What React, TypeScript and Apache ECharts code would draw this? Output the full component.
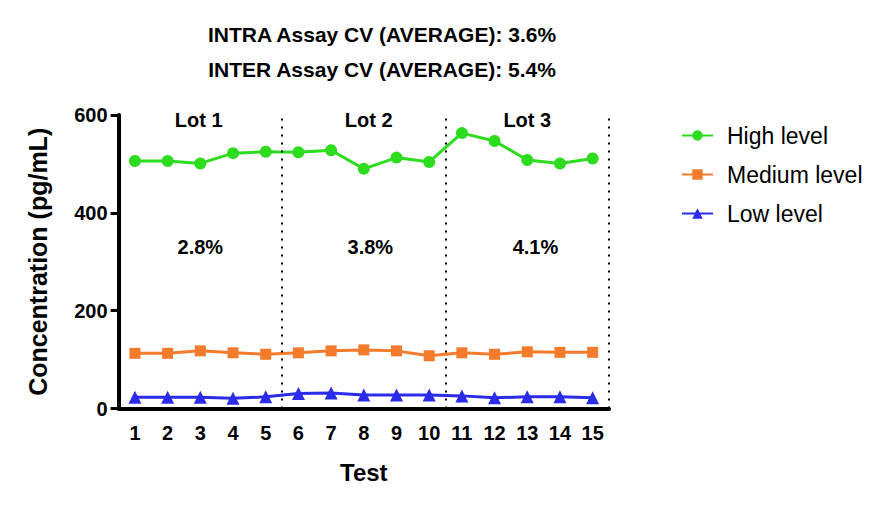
import React, { useEffect, useRef } from "react";
import * as echarts from "echarts";

const tests = ["1","2","3","4","5","6","7","8","9","10","11","12","13","14","15"];
const highLevel = [506, 506, 501, 522, 525, 524, 528, 490, 513, 504, 563, 547, 508, 501, 511];
const mediumLevel = [113, 113, 118, 114, 111, 114, 118, 120, 118, 108, 114, 111, 116, 115, 115];
const lowLevel = [23, 23, 23, 21, 24, 31, 32, 28, 28, 28, 26, 22, 24, 24, 22];
const yTicks = [0, 200, 400, 600];
const lotDividers = [5.5, 10.5, 15.5];
const lotNames = ["Lot 1", "Lot 2", "Lot 3"];
const lotX = [2.95, 8.15, 13.0];
const lotY = 590;
const lotCV = ["2.8%", "3.8%", "4.1%"];
const cvX = [3.0, 8.2, 13.25];
const cvY = 331;
const titleLines = ["INTRA Assay CV (AVERAGE): 3.6%", "INTER Assay CV (AVERAGE): 5.4%"];

const FONT = "'Liberation Sans', Arial, Helvetica, sans-serif";
const GREEN = "#2edc1f";
const ORANGE = "#f47a2c";
const BLUE = "#2b2bea";

export default function App() {
  const ref = useRef<HTMLDivElement>(null);
  useEffect(() => {
    if (!ref.current) return;
    const chart = echarts.init(ref.current, undefined, { renderer: "svg" });
    const annotations = [
      ...lotNames.map((n, i) => ({ value: [lotX[i], lotY], name: n })),
      ...lotCV.map((n, i) => ({ value: [cvX[i], cvY], name: n })),
    ];
    const lineSeries = (name: string, data: number[], color: string, symbol: string, size: number) => ({
      name,
      type: "line",
      data,
      xAxisIndex: 0,
      yAxisIndex: 0,
      symbol,
      symbolSize: size,
      showAllSymbol: true,
      lineStyle: { color, width: 3 },
      itemStyle: { color },
      z: 3,
    });
    chart.setOption({
      animation: false,
      backgroundColor: "#ffffff",
      textStyle: { fontFamily: FONT },
      graphic: titleLines.map((t, i) => ({
        type: "text",
        x: 382,
        y: i === 0 ? 34 : 69,
        style: {
          text: t,
          align: "center",
          verticalAlign: "middle",
          fontSize: 21,
          fontWeight: "bold",
          fontFamily: FONT,
          fill: "#000",
        },
      })),
      legend: {
        orient: "vertical",
        left: 676,
        top: 119,
        itemWidth: 31,
        itemHeight: 13,
        itemGap: 16,
        data: ["High level", "Medium level", "Low level"],
        textStyle: { fontSize: 23, color: "#000", fontFamily: FONT, padding: [0, 0, 0, 9] },
      },
      grid: { left: 118.6, right: 277, top: 115, bottom: 98.4, containLabel: false },
      xAxis: [
        {
          type: "category",
          data: tests,
          boundaryGap: true,
          name: "Test",
          nameLocation: "middle",
          nameGap: 52,
          nameTextStyle: { fontSize: 24, fontWeight: "bold", color: "#000", fontFamily: FONT },
          axisLine: { lineStyle: { color: "#000", width: 4 } },
          axisTick: { alignWithLabel: true, length: 7, lineStyle: { color: "#000", width: 3 } },
          axisLabel: { fontSize: 20, fontWeight: "bold", color: "#000", margin: 14, fontFamily: FONT, interval: 0 },
          splitLine: { show: false },
        },
        {
          type: "value",
          min: 0.5,
          max: 15.5,
          show: false,
          position: "bottom",
        },
      ],
      yAxis: {
        type: "value",
        min: yTicks[0],
        max: yTicks[yTicks.length - 1],
        interval: 200,
        name: "Concentration (pg/mL)",
        nameLocation: "middle",
        nameRotate: 90,
        nameGap: 68,
        nameTextStyle: { fontSize: 25, fontWeight: "bold", color: "#000", fontFamily: FONT },
        axisLine: { show: true, lineStyle: { color: "#000", width: 4 } },
        axisTick: { show: true, length: 8, lineStyle: { color: "#000", width: 3 } },
        axisLabel: { fontSize: 20, fontWeight: "bold", color: "#000", margin: 11, fontFamily: FONT },
        splitLine: { show: false },
      },
      series: [
        lineSeries("High level", highLevel, GREEN, "circle", 12),
        lineSeries("Medium level", mediumLevel, ORANGE, "rect", 11),
        lineSeries("Low level", lowLevel, BLUE, "triangle", 13),
        {
          name: "annotations",
          type: "scatter",
          xAxisIndex: 1,
          yAxisIndex: 0,
          data: annotations,
          symbol: "circle",
          symbolSize: 0,
          itemStyle: { color: "#000", opacity: 1 },
          silent: true,
          label: {
            show: true,
            position: "inside",
            formatter: "{b}",
            fontSize: 20,
            fontWeight: "bold",
            color: "#000",
            opacity: 1,
            fontFamily: FONT,
          },
          markLine: {
            silent: true,
            symbol: "none",
            label: { show: false },
            lineStyle: { color: "#000", width: 2, type: [2, 6], opacity: 1 },
            data: lotDividers.map((v) => ({ xAxis: v })),
          },
          z: 2,
        },
      ],
    });
    return () => chart.dispose();
  }, []);
  return (
    <div
      ref={ref}
      style={{ position: "fixed", left: 0, top: 0, width: 886, height: 507, background: "#fff" }}
    />
  );
}
